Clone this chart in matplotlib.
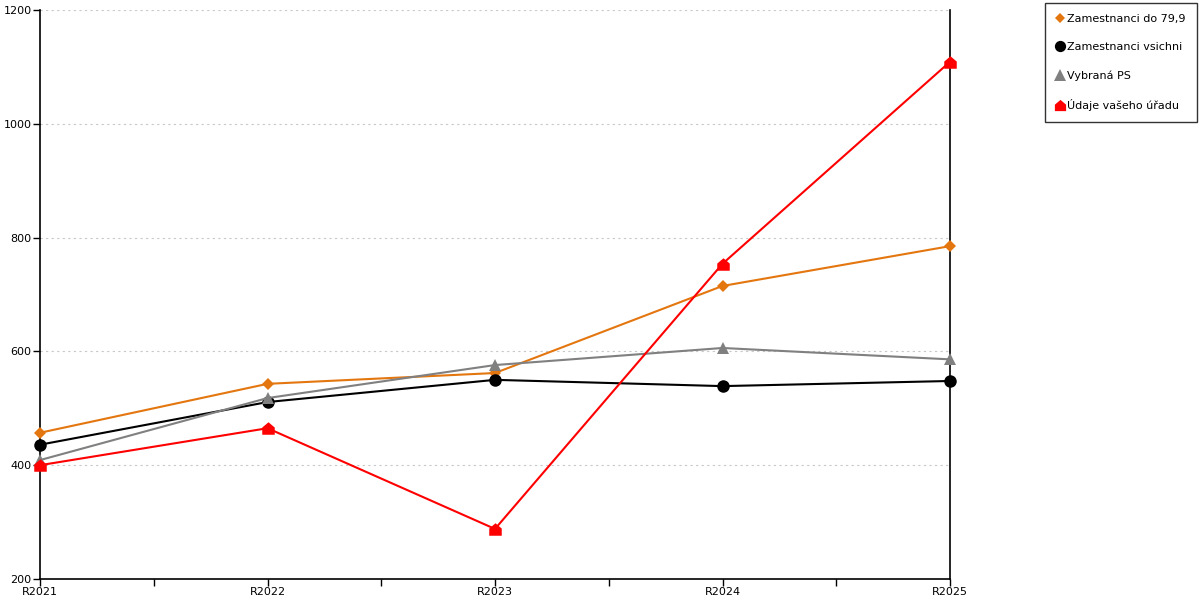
import matplotlib
matplotlib.use("Agg")
import matplotlib.pyplot as plt
from matplotlib.path import Path
from matplotlib.lines import Line2D
from matplotlib.ticker import MultipleLocator

categories = ["R2021", "R2022", "R2023", "R2024", "R2025"]
zam_do_79 = [457, 543, 562, 715, 785]
zam_vsichni = [436, 511, 550, 539, 548]
vybrana_ps = [409, 518, 576, 606, 586]
udaje_uradu = [400, 465, 288, 754, 1109]

series_names = ["Zamestnanci do 79,9", "Zamestnanci vsichni", "Vybraná PS", "Údaje vašeho úřadu"]

house = Path([(-1, -1), (1, -1), (1, 0.15), (0, 1), (-1, 0.15), (-1, -1)],
             [Path.MOVETO, Path.LINETO, Path.LINETO, Path.LINETO, Path.LINETO, Path.CLOSEPOLY])

plt.rcParams['font.family'] = ['DejaVu Sans']
fig = plt.figure(figsize=(12, 6), dpi=100)
ax = fig.add_axes([40/1200, 1-579/600, 910/1200, 569/600])

x = list(range(len(categories)))
styles = [
    (zam_do_79, "#E4760F", "D", 6),
    (zam_vsichni, "#000000", "o", 9),
    (vybrana_ps, "#808080", "^", 9),
    (udaje_uradu, "#FF0000", house, 9),
]
handles = []
for (vals, col, mk, ms), name in zip(styles, series_names):
    ax.plot(x, vals, color=col, lw=1.5, marker=mk, markersize=ms,
            markeredgewidth=0, markerfacecolor=col, clip_on=False, zorder=3)
    handles.append(Line2D([], [], color=col, marker=mk, linestyle="none",
                          markersize=ms * 0.9, markeredgewidth=0))

ax.set_xlim(0, 4)
ax.set_ylim(200, 1200)
ax.yaxis.set_major_locator(MultipleLocator(200))
ax.set_xticks(x)
ax.set_xticklabels(categories)
ax.set_xticks([0.5, 1.5, 2.5, 3.5], minor=True)
ax.tick_params(axis="x", which="both", direction="out", length=5, width=1, pad=1, labelsize=8)
ax.tick_params(axis="y", direction="out", length=5, width=1, pad=1, labelsize=8)
ax.yaxis.grid(True, linestyle=(0, (2, 3)), color="#c8c8c8", lw=0.8)
ax.set_axisbelow(True)
ax.spines["top"].set_visible(False)
for s in ["left", "bottom", "right"]:
    ax.spines[s].set_linewidth(1.2)
    ax.spines[s].set_color("black")

leg = fig.legend(handles, series_names, loc="upper right",
                 bbox_to_anchor=(1197/1200, 1-3/600), fontsize=8,
                 frameon=True, fancybox=False, edgecolor="black",
                 handlelength=0.7, handletextpad=0.35, labelspacing=1.62,
                 borderpad=1.0, borderaxespad=0)
leg.get_frame().set_linewidth(1.0)

fig.savefig("out.png", dpi=100)
